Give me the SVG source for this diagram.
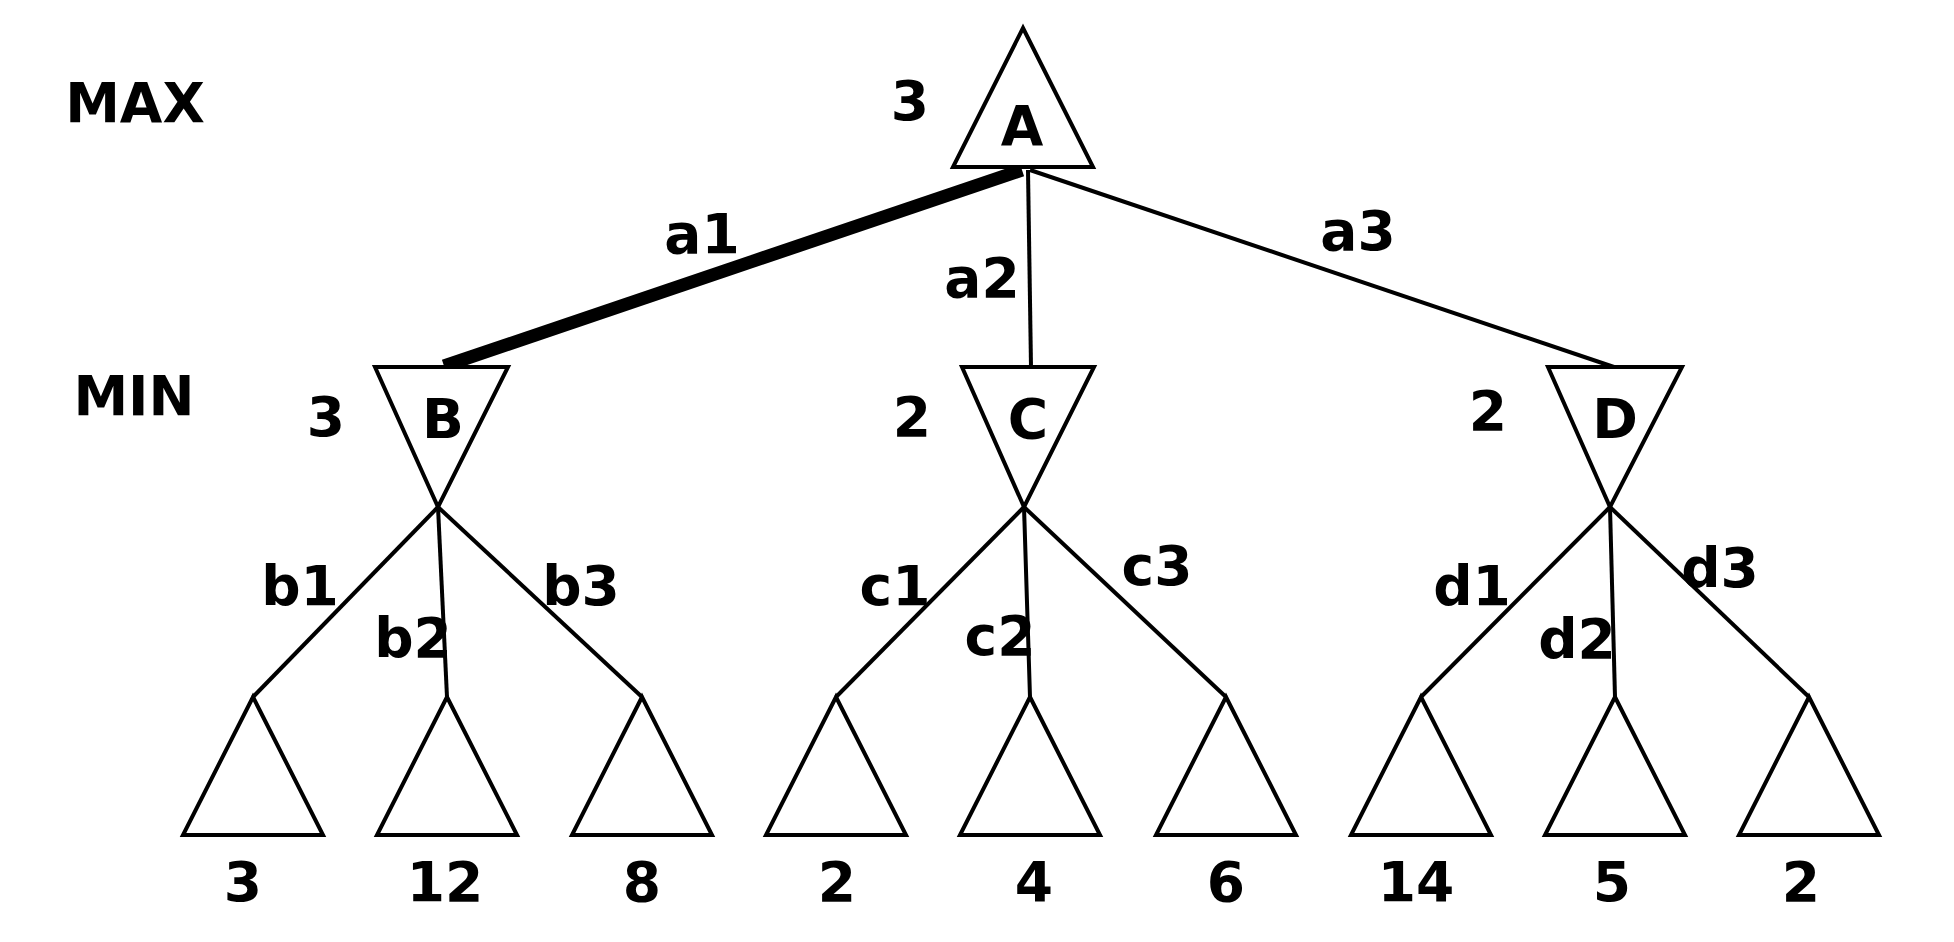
<svg xmlns="http://www.w3.org/2000/svg" width="1954" height="942" viewBox="0 0 1954 942">
<style>
.n{fill:#fff;stroke:#000;stroke-width:4;stroke-linejoin:miter}
.e{stroke:#000;stroke-width:4;fill:none}
.t{font-family:"DejaVu Sans",Verdana,sans-serif;font-weight:bold;font-size:55px;fill:#000;text-anchor:middle}
</style>
<rect width="1954" height="942" fill="#fff"/>
<g id="levels">
<text class="t" x="135" y="122">MAX</text>
<text class="t" x="134" y="415">MIN</text>
</g>
<g id="connectors">
<line class="e" x1="1028" y1="170" x2="1031" y2="367"/>
<line class="e" x1="1030" y1="170" x2="1614" y2="367"/>
<line x1="1022" y1="170" x2="444" y2="366" stroke="#000" stroke-width="13"/>
<line class="e" x1="438" y1="507" x2="253" y2="697"/>
<line class="e" x1="438" y1="507" x2="447" y2="697"/>
<line class="e" x1="438" y1="507" x2="642" y2="697"/>
<line class="e" x1="1024" y1="507" x2="836" y2="697"/>
<line class="e" x1="1024" y1="507" x2="1030" y2="697"/>
<line class="e" x1="1024" y1="507" x2="1226" y2="697"/>
<line class="e" x1="1610" y1="507" x2="1421" y2="697"/>
<line class="e" x1="1610" y1="507" x2="1615" y2="697"/>
<line class="e" x1="1610" y1="507" x2="1809" y2="697"/>
<text class="t" x="702" y="253">a1</text>
<text class="t" x="982" y="297">a2</text>
<text class="t" x="1358" y="250">a3</text>
<text class="t" x="300" y="605">b1</text>
<text class="t" x="413" y="657">b2</text>
<text class="t" x="581" y="605">b3</text>
<text class="t" x="895" y="605">c1</text>
<text class="t" x="1000" y="655">c2</text>
<text class="t" x="1157" y="585">c3</text>
<text class="t" x="1472" y="605">d1</text>
<text class="t" x="1577" y="658">d2</text>
<text class="t" x="1720" y="587">d3</text>
</g>
<g id="A">
<polygon class="n" points="1023,28 1093,167 953,167"/>
<text class="t" x="1022" y="145" font-size="60">A</text>
<text class="t" x="910" y="120">3</text>
</g>
<g id="B">
<polygon class="n" points="375,367 508,367 438,507"/>
<text class="t" x="443" y="438" font-size="60">B</text>
<text class="t" x="326" y="436">3</text>
</g>
<g id="C">
<polygon class="n" points="962,367 1094,367 1024,507"/>
<text class="t" x="1028" y="438" font-size="60">C</text>
<text class="t" x="912" y="436">2</text>
</g>
<g id="D">
<polygon class="n" points="1548,367 1682,367 1610,507"/>
<text class="t" x="1615" y="438" font-size="60">D</text>
<text class="t" x="1488" y="430">2</text>
</g>
<g id="leaf1"><polygon class="n" points="253,697 323,835 183,835"/><text class="t" x="243" y="901">3</text></g>
<g id="leaf2"><polygon class="n" points="447,697 517,835 377,835"/><text class="t" x="445" y="901">12</text></g>
<g id="leaf3"><polygon class="n" points="642,697 712,835 572,835"/><text class="t" x="642" y="901">8</text></g>
<g id="leaf4"><polygon class="n" points="836,697 906,835 766,835"/><text class="t" x="837" y="901">2</text></g>
<g id="leaf5"><polygon class="n" points="1030,697 1100,835 960,835"/><text class="t" x="1034" y="901">4</text></g>
<g id="leaf6"><polygon class="n" points="1226,697 1296,835 1156,835"/><text class="t" x="1226" y="901">6</text></g>
<g id="leaf7"><polygon class="n" points="1421,697 1491,835 1351,835"/><text class="t" x="1416" y="901">14</text></g>
<g id="leaf8"><polygon class="n" points="1615,697 1685,835 1545,835"/><text class="t" x="1612" y="901">5</text></g>
<g id="leaf9"><polygon class="n" points="1809,697 1879,835 1739,835"/><text class="t" x="1801" y="901">2</text></g>
</svg>
